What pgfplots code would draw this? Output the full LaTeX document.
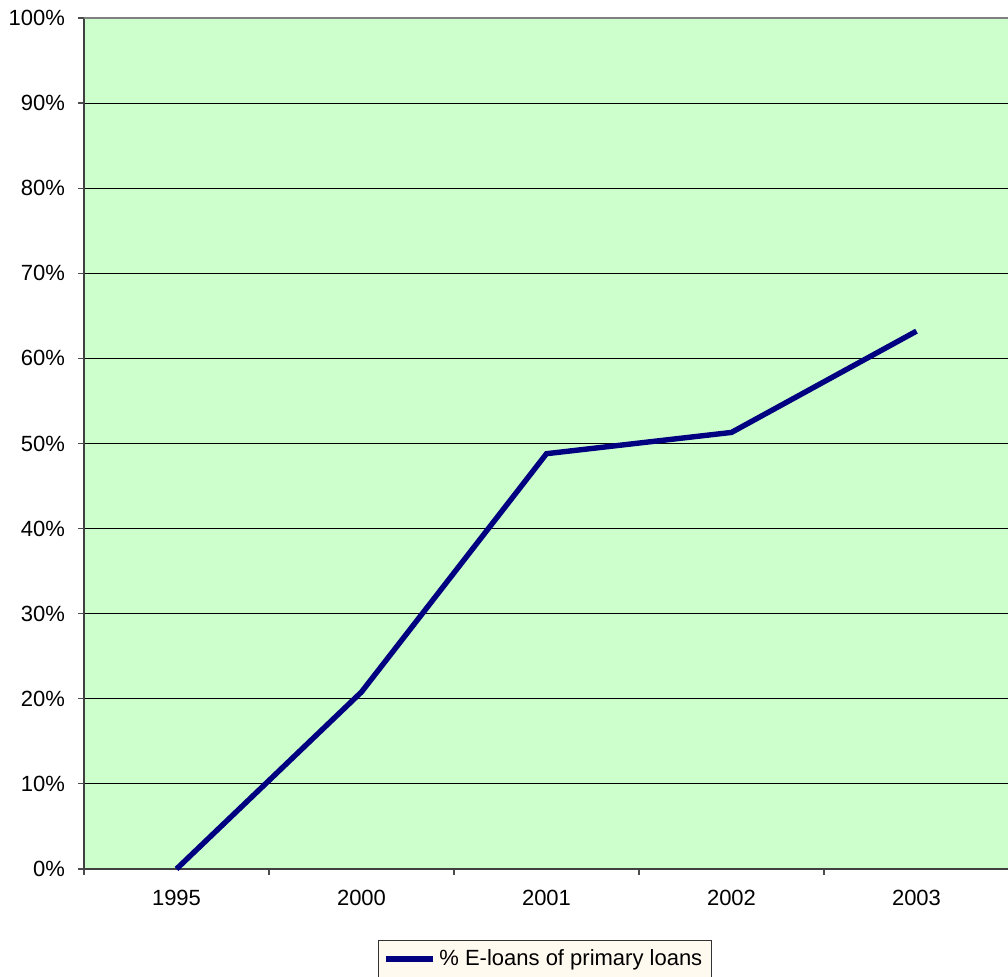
\documentclass[border=0pt]{standalone}
\usepackage{pgfplots}
\pgfplotsset{compat=1.18}
\usepackage{fontspec}
\setmainfont{Liberation Sans}
\definecolor{plotbg}{HTML}{CCFFCC}
\definecolor{navyline}{HTML}{000080}
\definecolor{legbg}{HTML}{FFFAF0}
\begin{document}
\begin{tikzpicture}
\useasboundingbox (0pt,0pt) rectangle (504pt,488.5pt);
\begin{scope}
\clip (0pt,0pt) rectangle (504pt,488.5pt);
\begin{axis}[
  at={(42pt,54pt)}, anchor=south west,
  scale only axis, width=462.5pt, height=425.5pt,
  xmin=-0.5, xmax=4.5, ymin=0, ymax=100,
  axis background/.style={fill=plotbg},
  axis x line*=bottom, axis y line*=left,
  axis line style={black!75, line width=0.8pt},
  xtick={0,1,2,3,4},
  xticklabels={1995,2000,2001,2002,2003},
  major x tick style={draw=none},
  minor xtick={-0.5,0.5,1.5,2.5,3.5,4.5},
  minor x tick style={black!70, line width=0.6pt},
  minor tick length=3pt,
  ytick={0,10,...,90},
  yticklabel={\pgfmathprintnumber{\tick}\%},
  extra y ticks={100},
  extra y tick labels={100\%},
  extra y tick style={grid style={black!50, line width=1.2pt}},
  ymajorgrids,
  grid style={black, line width=0.5pt},
  tick align=outside, major tick length=3pt,
  tick style={black!70, line width=0.6pt},
  ticklabel style={font=\fontsize{11}{13}\selectfont, black},
  xticklabel style={yshift=-4pt},
  yticklabel style={xshift=-3pt},
  /pgf/number format/assume math mode=true,
  legend style={at={(0.498,-0.0834)}, anchor=north, fill=legbg, draw=black!80,
    font=\fontsize{11}{13}\selectfont, inner sep=2.5pt, row sep=0pt,
    /tikz/every even column/.append style={column sep=2pt}},
  legend image code/.code={\draw[#1] (0pt,0pt) -- (23.5pt,0pt);},
  clip=false,
]
\addplot[navyline, line width=2.7pt, line join=miter] coordinates {
  (0,0) (1,20.8) (2,48.8) (3,51.3) (4,63.2)
};
\addlegendentry{\% E-loans of primary loans}
\end{axis}
\end{scope}
\end{tikzpicture}
\end{document}
